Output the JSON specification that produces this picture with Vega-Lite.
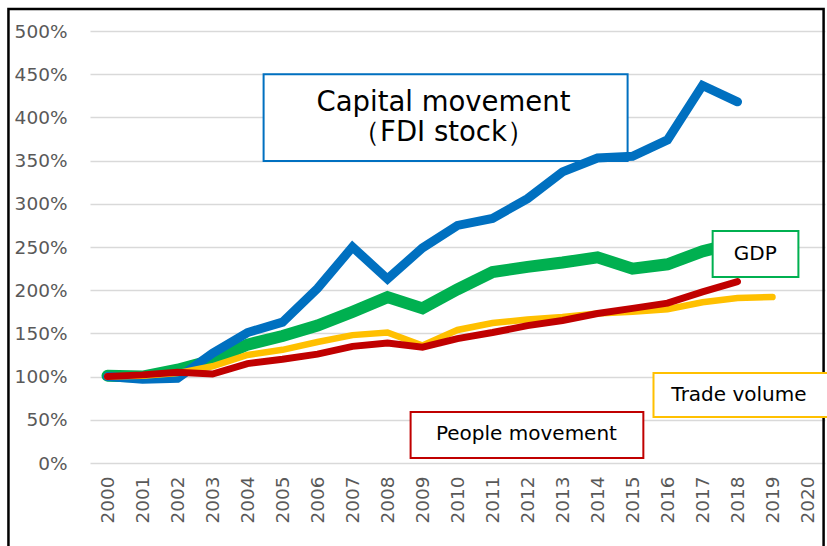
{
  "$schema": "https://vega.github.io/schema/vega-lite/v6.json",
  "width": 735,
  "height": 432,
  "autosize": {"type": "none"},
  "padding": {"left": 90, "top": 31, "right": 2, "bottom": 83},
  "background": "white",
  "config": {
    "view": {"stroke": null},
    "axis": {"labelOverlap": false, "labelFlush": false, "domain": false, "ticks": false, "labelFont": "DejaVu Sans", "labelFontSize": 18.5, "labelColor": "#595959"},
    "axisX": {"labelAngle": -90, "grid": false, "labelPadding": 13, "tickCount": 21, "format": "d"},
    "axisY": {"grid": true, "gridColor": "#D9D9D9", "gridWidth": 1.5, "labelPadding": 23, "tickCount": 11, "format": ".0%"}
  },
  "datasets": {
    "series": [
      {"year": 2000, "series": "Capital movement (FDI stock)", "value": 1.00},
      {"year": 2001, "series": "Capital movement (FDI stock)", "value": 0.97},
      {"year": 2002, "series": "Capital movement (FDI stock)", "value": 0.98},
      {"year": 2003, "series": "Capital movement (FDI stock)", "value": 1.27},
      {"year": 2004, "series": "Capital movement (FDI stock)", "value": 1.51},
      {"year": 2005, "series": "Capital movement (FDI stock)", "value": 1.63},
      {"year": 2006, "series": "Capital movement (FDI stock)", "value": 2.02},
      {"year": 2007, "series": "Capital movement (FDI stock)", "value": 2.50},
      {"year": 2008, "series": "Capital movement (FDI stock)", "value": 2.13},
      {"year": 2009, "series": "Capital movement (FDI stock)", "value": 2.49},
      {"year": 2010, "series": "Capital movement (FDI stock)", "value": 2.75},
      {"year": 2011, "series": "Capital movement (FDI stock)", "value": 2.83},
      {"year": 2012, "series": "Capital movement (FDI stock)", "value": 3.06},
      {"year": 2013, "series": "Capital movement (FDI stock)", "value": 3.37},
      {"year": 2014, "series": "Capital movement (FDI stock)", "value": 3.53},
      {"year": 2015, "series": "Capital movement (FDI stock)", "value": 3.55},
      {"year": 2016, "series": "Capital movement (FDI stock)", "value": 3.74},
      {"year": 2017, "series": "Capital movement (FDI stock)", "value": 4.37},
      {"year": 2018, "series": "Capital movement (FDI stock)", "value": 4.18},
      {"year": 2000, "series": "GDP", "value": 1.01},
      {"year": 2001, "series": "GDP", "value": 1.00},
      {"year": 2002, "series": "GDP", "value": 1.08},
      {"year": 2003, "series": "GDP", "value": 1.19},
      {"year": 2004, "series": "GDP", "value": 1.37},
      {"year": 2005, "series": "GDP", "value": 1.47},
      {"year": 2006, "series": "GDP", "value": 1.59},
      {"year": 2007, "series": "GDP", "value": 1.75},
      {"year": 2008, "series": "GDP", "value": 1.92},
      {"year": 2009, "series": "GDP", "value": 1.79},
      {"year": 2010, "series": "GDP", "value": 2.01},
      {"year": 2011, "series": "GDP", "value": 2.21},
      {"year": 2012, "series": "GDP", "value": 2.27},
      {"year": 2013, "series": "GDP", "value": 2.32},
      {"year": 2014, "series": "GDP", "value": 2.38},
      {"year": 2015, "series": "GDP", "value": 2.25},
      {"year": 2016, "series": "GDP", "value": 2.30},
      {"year": 2017, "series": "GDP", "value": 2.45},
      {"year": 2018, "series": "GDP", "value": 2.55},
      {"year": 2000, "series": "Trade volume", "value": 1.00},
      {"year": 2001, "series": "Trade volume", "value": 1.01},
      {"year": 2002, "series": "Trade volume", "value": 1.04},
      {"year": 2003, "series": "Trade volume", "value": 1.12},
      {"year": 2004, "series": "Trade volume", "value": 1.25},
      {"year": 2005, "series": "Trade volume", "value": 1.31},
      {"year": 2006, "series": "Trade volume", "value": 1.40},
      {"year": 2007, "series": "Trade volume", "value": 1.48},
      {"year": 2008, "series": "Trade volume", "value": 1.51},
      {"year": 2009, "series": "Trade volume", "value": 1.36},
      {"year": 2010, "series": "Trade volume", "value": 1.54},
      {"year": 2011, "series": "Trade volume", "value": 1.62},
      {"year": 2012, "series": "Trade volume", "value": 1.66},
      {"year": 2013, "series": "Trade volume", "value": 1.69},
      {"year": 2014, "series": "Trade volume", "value": 1.73},
      {"year": 2015, "series": "Trade volume", "value": 1.75},
      {"year": 2016, "series": "Trade volume", "value": 1.78},
      {"year": 2017, "series": "Trade volume", "value": 1.86},
      {"year": 2018, "series": "Trade volume", "value": 1.91},
      {"year": 2019, "series": "Trade volume", "value": 1.92},
      {"year": 2000, "series": "People movement", "value": 1.00},
      {"year": 2001, "series": "People movement", "value": 1.02},
      {"year": 2002, "series": "People movement", "value": 1.05},
      {"year": 2003, "series": "People movement", "value": 1.03},
      {"year": 2004, "series": "People movement", "value": 1.15},
      {"year": 2005, "series": "People movement", "value": 1.20},
      {"year": 2006, "series": "People movement", "value": 1.26},
      {"year": 2007, "series": "People movement", "value": 1.35},
      {"year": 2008, "series": "People movement", "value": 1.39},
      {"year": 2009, "series": "People movement", "value": 1.34},
      {"year": 2010, "series": "People movement", "value": 1.44},
      {"year": 2011, "series": "People movement", "value": 1.51},
      {"year": 2012, "series": "People movement", "value": 1.59},
      {"year": 2013, "series": "People movement", "value": 1.65},
      {"year": 2014, "series": "People movement", "value": 1.73},
      {"year": 2015, "series": "People movement", "value": 1.79},
      {"year": 2016, "series": "People movement", "value": 1.85},
      {"year": 2017, "series": "People movement", "value": 1.98},
      {"year": 2018, "series": "People movement", "value": 2.10}
    ]
  },
  "data": {"name": "series"},
  "layer": [
    {
      "data": {"values": [{"label": "frame"}]},
      "mark": {"type": "rect", "fill": null, "stroke": "#000000", "strokeWidth": 2.5},
      "encoding": {
        "x": {
          "datum": 1997.17, "type": "quantitative", "title": null,
          "scale": {"domain": [1999.5, 2020.5], "nice": false, "zero": false},
          "axis": {"values": [2000, 2001, 2002, 2003, 2004, 2005, 2006, 2007, 2008, 2009, 2010, 2011, 2012, 2013, 2014, 2015, 2016, 2017, 2018, 2019, 2020], "labelOverlap": false, "format": "d"}
        },
        "x2": {"datum": 2020.46},
        "y": {
          "datum": 5.255, "type": "quantitative", "title": null,
          "scale": {"domain": [0, 5], "nice": false},
          "axis": {"values": [0, 0.5, 1, 1.5, 2, 2.5, 3, 3.5, 4, 4.5, 5], "labelOverlap": false, "format": ".0%"}
        },
        "y2": {"datum": -1.2}
      }
    },
    {
      "data": {"values": [{"label": "Capital movement\n（FDI stock）"}]},
      "layer": [
        {
          "mark": {"type": "rect", "fill": "#FFFFFF", "stroke": "#0070C0", "strokeWidth": 2},
          "encoding": {
            "x": {"datum": 2004.46, "type": "quantitative", "title": null},
            "x2": {"datum": 2014.86},
            "y": {"datum": 4.50, "type": "quantitative", "title": null},
            "y2": {"datum": 3.495}
          }
        },
        {
          "mark": {"type": "text", "font": "DejaVu Sans", "fontSize": 27.5, "lineBreak": "\n", "lineHeight": 30, "align": "center", "baseline": "middle", "color": "#000000"},
          "encoding": {
            "x": {"datum": 2009.6, "type": "quantitative", "title": null},
            "y": {"datum": 4.17, "type": "quantitative", "title": null},
            "text": {"field": "label"}
          }
        }
      ]
    },
    {
      "transform": [{"filter": "datum.series === 'GDP'"}],
      "mark": {"type": "line", "color": "#00B050", "strokeWidth": 12, "strokeCap": "round"},
      "encoding": {
        "x": {"field": "year", "type": "quantitative", "title": null},
        "y": {"field": "value", "type": "quantitative", "title": null}
      }
    },
    {
      "transform": [{"filter": "datum.series === 'Capital movement (FDI stock)'"}],
      "mark": {"type": "line", "color": "#0070C0", "strokeWidth": 9, "strokeCap": "round"},
      "encoding": {
        "x": {"field": "year", "type": "quantitative", "title": null},
        "y": {"field": "value", "type": "quantitative", "title": null}
      }
    },
    {
      "transform": [{"filter": "datum.series === 'Trade volume'"}],
      "mark": {"type": "line", "color": "#FFC000", "strokeWidth": 6.5, "strokeCap": "round"},
      "encoding": {
        "x": {"field": "year", "type": "quantitative", "title": null},
        "y": {"field": "value", "type": "quantitative", "title": null}
      }
    },
    {
      "transform": [{"filter": "datum.series === 'People movement'"}],
      "mark": {"type": "line", "color": "#C00000", "strokeWidth": 7, "strokeCap": "round"},
      "encoding": {
        "x": {"field": "year", "type": "quantitative", "title": null},
        "y": {"field": "value", "type": "quantitative", "title": null}
      }
    },
    {
      "data": {"values": [{"label": "GDP"}]},
      "layer": [
        {
          "mark": {"type": "rect", "fill": "#FFFFFF", "stroke": "#00B050", "strokeWidth": 2},
          "encoding": {
            "x": {"datum": 2017.29, "type": "quantitative", "title": null},
            "x2": {"datum": 2019.74},
            "y": {"datum": 2.685, "type": "quantitative", "title": null},
            "y2": {"datum": 2.153}
          }
        },
        {
          "mark": {"type": "text", "font": "DejaVu Sans", "fontSize": 20, "align": "center", "baseline": "middle", "color": "#000000"},
          "encoding": {
            "x": {"datum": 2018.51, "type": "quantitative", "title": null},
            "y": {"datum": 2.42, "type": "quantitative", "title": null},
            "text": {"field": "label"}
          }
        }
      ]
    },
    {
      "data": {"values": [{"label": "Trade volume"}]},
      "layer": [
        {
          "mark": {"type": "rect", "fill": "#FFFFFF", "stroke": "#FFC000", "strokeWidth": 2},
          "encoding": {
            "x": {"datum": 2015.6, "type": "quantitative", "title": null},
            "x2": {"datum": 2020.95},
            "y": {"datum": 1.042, "type": "quantitative", "title": null},
            "y2": {"datum": 0.532}
          }
        },
        {
          "mark": {"type": "text", "font": "DejaVu Sans", "fontSize": 20, "align": "left", "baseline": "middle", "color": "#000000"},
          "encoding": {
            "x": {"datum": 2016.11, "type": "quantitative", "title": null},
            "y": {"datum": 0.787, "type": "quantitative", "title": null},
            "text": {"field": "label"}
          }
        }
      ]
    },
    {
      "data": {"values": [{"label": "People movement"}]},
      "layer": [
        {
          "mark": {"type": "rect", "fill": "#FFFFFF", "stroke": "#C00000", "strokeWidth": 2},
          "encoding": {
            "x": {"datum": 2008.66, "type": "quantitative", "title": null},
            "x2": {"datum": 2015.31},
            "y": {"datum": 0.590, "type": "quantitative", "title": null},
            "y2": {"datum": 0.058}
          }
        },
        {
          "mark": {"type": "text", "font": "DejaVu Sans", "fontSize": 20, "align": "center", "baseline": "middle", "color": "#000000"},
          "encoding": {
            "x": {"datum": 2011.97, "type": "quantitative", "title": null},
            "y": {"datum": 0.336, "type": "quantitative", "title": null},
            "text": {"field": "label"}
          }
        }
      ]
    }
  ]
}
